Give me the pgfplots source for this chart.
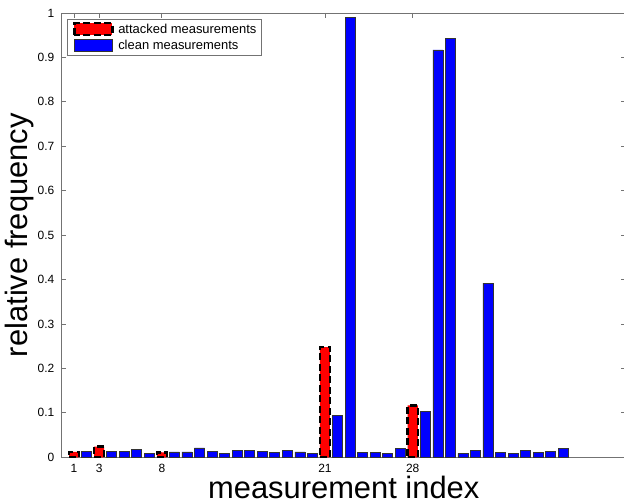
\documentclass[border=0pt]{standalone}
\usepackage{pgfplots}
\pgfplotsset{compat=1.18}
\usepackage{fontspec}
\setmainfont{Liberation Sans}
\usetikzlibrary{calc}
\definecolor{mblue}{RGB}{0,0,255}
\definecolor{mred}{RGB}{255,0,0}
\begin{document}
\begin{tikzpicture}
\begin{axis}[
  scale only axis,
  width=564.5bp, height=444.3bp,
  xmin=0, xmax=45, ymin=0, ymax=1,
  axis line style={draw=black!55, line width=0.8bp},
  every tick/.style={draw=black!55, line width=0.8bp},
  tick align=inside,
  major tick length=5bp,
  xtick={1,3,8,21,28},
  ytick={0,0.1,0.2,0.3,0.4,0.5,0.6,0.7,0.8,0.9,1},
  yticklabels={0,0.1,0.2,0.3,0.4,0.5,0.6,0.7,0.8,0.9,1},
  /pgf/number format/assume math mode=true,
  tick label style={font=\fontsize{12}{14}\selectfont},
  yticklabel style={inner sep=0pt, xshift=-7bp},
  xticklabel style={inner sep=0pt, yshift=-7bp},
  xlabel={measurement index},
  ylabel={relative frequency},
  label style={font=\fontsize{31}{36}\selectfont},
  xlabel style={at={(axis description cs:0.5,-0.0925)}, anchor=base},
  ylabel style={at={(axis description cs:-0.0611,0.5)}, anchor=base, rotate=0},
  legend style={at={(axis description cs:0.0097,0.9865)}, anchor=north west,
    draw=black!55, line width=0.6bp, fill=white,
    font=\fontsize{13}{15}\selectfont,
    inner xsep=3bp, inner ysep=2.5bp, row sep=1bp},
  legend cell align=left,
  legend image code/.code={\path[draw=none,fill=none] (0bp,0bp) -- (46bp,0bp);\draw[#1] (4bp,-6bp) rectangle (42bp,6bp);},
]
\addplot[ybar, bar width=0.8, bar shift=0pt, fill=mred, draw=black,
  line width=2.5bp, dash pattern=on 7bp off 3.5bp]
  coordinates {(1,0.012) (3,0.024) (8,0.011) (21,0.248) (28,0.117)};
\addlegendentry{attacked measurements}
\addplot[ybar, bar width=0.8, bar shift=0pt, fill=mblue, draw=black!80, line width=0.6bp]
  coordinates {
  (2,0.013) (4,0.013) (5,0.013) (6,0.017) (7,0.008) (9,0.012) (10,0.012)
  (11,0.021) (12,0.014) (13,0.008) (14,0.016) (15,0.016) (16,0.013) (17,0.011)
  (18,0.015) (19,0.012) (20,0.008) (22,0.095) (23,0.990) (24,0.011) (25,0.011)
  (26,0.009) (27,0.020) (29,0.104) (30,0.917) (31,0.943) (32,0.009) (33,0.016)
  (34,0.392) (35,0.011) (36,0.008) (37,0.015) (38,0.011) (39,0.014) (40,0.020)};
\addlegendentry{clean measurements}
\end{axis}
\pgfresetboundingbox
\path[use as bounding box] ($(current axis.south west)+(-61.5bp,-46.7bp)$) rectangle ($(current axis.north east)+(-2bp,13bp)$);
\end{tikzpicture}
\end{document}
